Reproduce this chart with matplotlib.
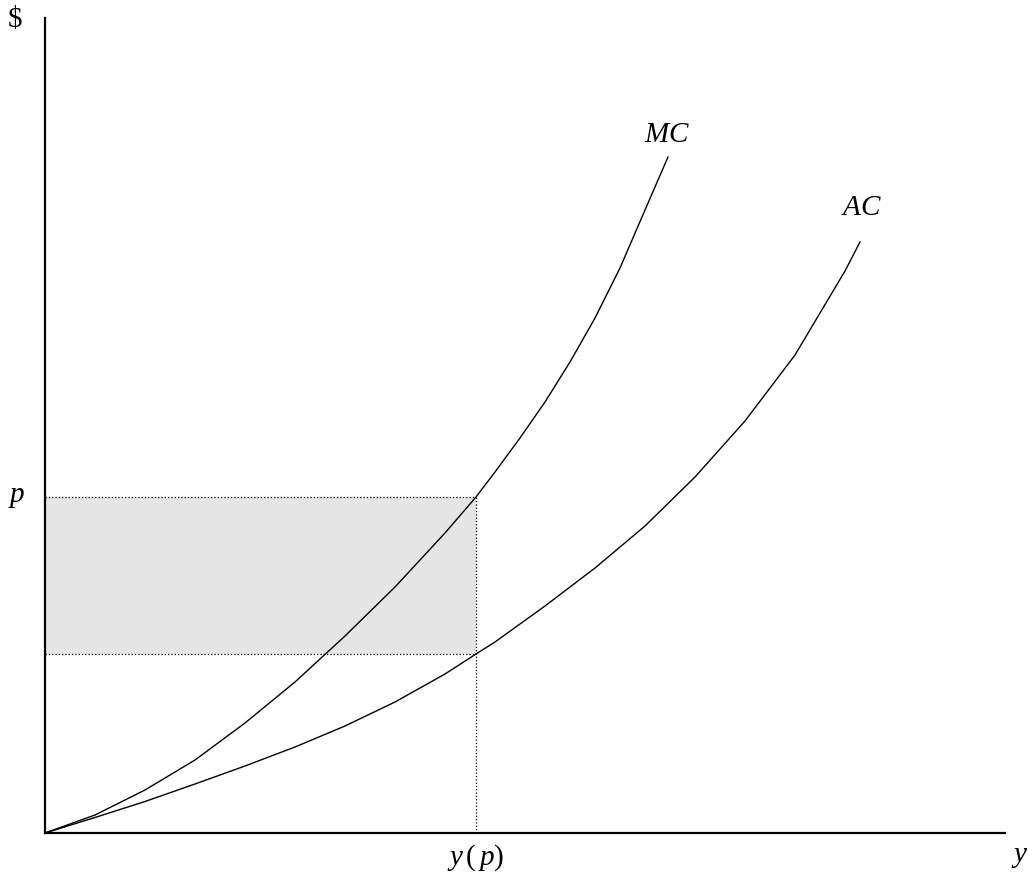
import numpy as np
import matplotlib
matplotlib.use('Agg')
import matplotlib.pyplot as plt

''' curve readings (x in output units, y in $)
'''
mc_x = [0.00, 0.50, 1.00, 1.50, 2.00, 2.50, 3.00, 3.50, 4.00, 4.31, 4.50, 4.75, 5.00, 5.25, 5.50, 5.75, 6.00, 6.23]
mc_y = [0.00, 0.18, 0.43, 0.73, 1.10, 1.51, 1.97, 2.46, 3.00, 3.36, 3.61, 3.95, 4.31, 4.71, 5.15, 5.65, 6.23, 6.76]
ac_x = [0.00, 0.50, 1.00, 1.50, 2.00, 2.50, 3.00, 3.50, 4.00, 4.31, 4.50, 5.00, 5.50, 6.00, 6.50, 7.00, 7.50, 8.00, 8.15]
ac_y = [0.00, 0.155, 0.315, 0.49, 0.67, 0.86, 1.07, 1.31, 1.59, 1.79, 1.91, 2.27, 2.65, 3.07, 3.56, 4.12, 4.78, 5.62, 5.91]

y_p = 4.31      # output at price p
p = 3.36        # price
ac_at_yp = 1.79 # average cost at y(p)

plt.rcParams['font.family'] = ['Liberation Serif', 'DejaVu Serif']
plt.rcParams['mathtext.fontset'] = 'custom'
plt.rcParams['mathtext.rm'] = 'Liberation Serif'
plt.rcParams['mathtext.it'] = 'Liberation Serif:italic'

fig = plt.figure(figsize=(10.32, 8.83), dpi=100)
ax = fig.add_axes([45/1032, 50/883, 960/1032, 815/883])
ax.set_xlim(0, 9.6)
ax.set_ylim(0, 8.15)

# profit rectangle
ax.fill_between([0, y_p], ac_at_yp, p, color='#e5e5e5', lw=0)
ax.plot([0, y_p], [p, p], ls=':', color='k', lw=0.9)
ax.plot([0, y_p], [ac_at_yp, ac_at_yp], ls=':', color='k', lw=0.9)
ax.plot([y_p, y_p], [0, p], ls=':', color='k', lw=0.9)

ax.plot(mc_x, mc_y, color='k', lw=1.0, solid_joinstyle='round')
ax.plot(ac_x, ac_y, color='k', lw=1.0, solid_joinstyle='round')

for s in ['top', 'right']:
  ax.spines[s].set_visible(False)
for s in ['left', 'bottom']:
  ax.spines[s].set_linewidth(1.6)
ax.set_xticks([])
ax.set_yticks([])

fs = 21
ax.text(-0.30, 8.13, r'\$', fontsize=fs, ha='center', va='center', clip_on=False)
ax.text(-0.28, p, r'$p$', fontsize=fs, ha='center', va='center', clip_on=False)
ax.text(y_p, -0.25, r'$y\,(\,p)$', fontsize=fs, ha='center', va='center', clip_on=False)
ax.text(9.75, -0.24, r'$y$', fontsize=fs, ha='center', va='center', clip_on=False)
ax.text(6.22, 6.98, r'$MC$', fontsize=fs, ha='center', va='center')
ax.text(8.17, 6.25, r'$AC$', fontsize=fs, ha='center', va='center')

plt.savefig('out.png', dpi=100)
